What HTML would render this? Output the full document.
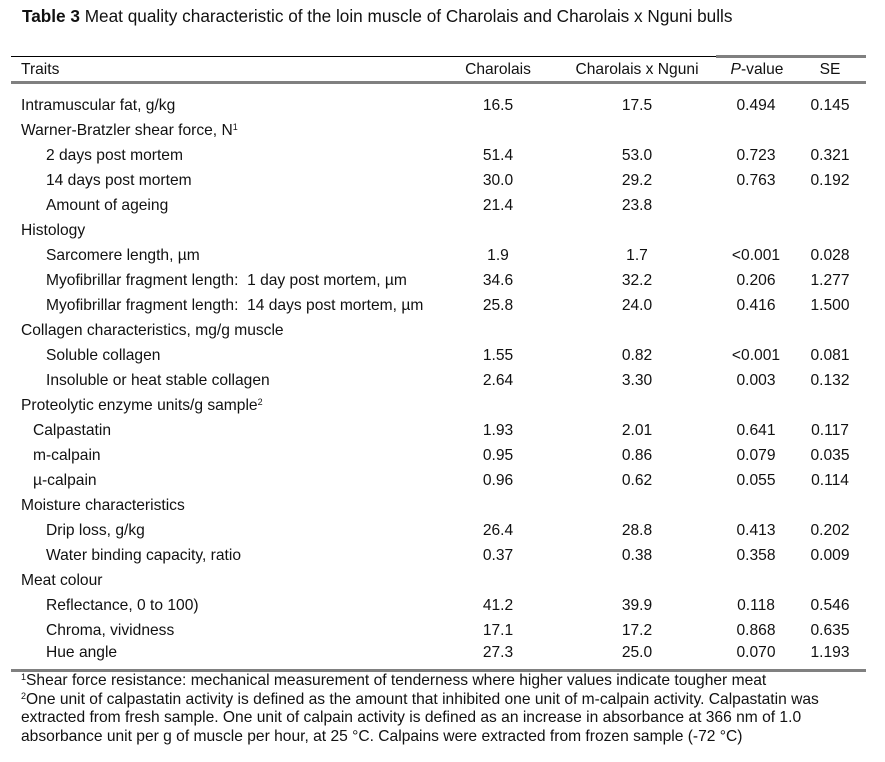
<!DOCTYPE html>
<html><head><meta charset="utf-8"><style>
body{margin:0;width:885px;height:762px;background:#fff;font-family:"Liberation Sans",Arial,sans-serif;color:#111;position:relative;overflow:hidden}
.t{position:absolute;font-size:15.6px;line-height:18px;white-space:nowrap}
.c{transform:translateX(-50%)}
sup{font-size:9px;vertical-align:top;line-height:10px}
.rule{position:absolute}
</style></head><body>
<div class="t" style="left:22px;top:7px;font-size:17.2px"><b>Table 3</b> Meat quality characteristic of the loin muscle of Charolais and Charolais x Nguni bulls</div>
<div class="rule" style="left:11px;top:56px;width:705px;height:1px;background:#000"></div>
<div class="rule" style="left:716px;top:55px;width:150px;height:3px;background:#808080"></div>
<div class="t" style="left:21px;top:61px">Traits</div>
<div class="t c" style="left:498px;top:61px">Charolais</div>
<div class="t c" style="left:637px;top:61px">Charolais x Nguni</div>
<div class="t c" style="left:757px;top:61px"><i>P</i>-value</div>
<div class="t c" style="left:830px;top:61px">SE</div>
<div class="rule" style="left:11px;top:81px;width:855px;height:3px;background:#808080"></div>
<div id="rows"></div>
<div class="rule" style="left:11px;top:669px;width:855px;height:3px;background:#808080"></div>
<div class="t" style="left:21px;top:672px;font-size:15.6px;line-height:18.5px"><sup>1</sup>Shear force resistance: mechanical measurement of tenderness where higher values indicate tougher meat<br><sup>2</sup>One unit of calpastatin activity is defined as the amount that inhibited one unit of m-calpain activity. Calpastatin was<br>extracted from fresh sample. One unit of calpain activity is defined as an increase in absorbance at 366 nm of 1.0<br>absorbance unit per g of muscle per hour, at 25 °C. Calpains were extracted from frozen sample (-72 °C)</div>
<script>
const labels=["Intramuscular fat, g/kg","Warner-Bratzler shear force, N<sup>1</sup>","2 days post mortem","14 days post mortem","Amount of ageing","Histology","Sarcomere length, µm","Myofibrillar fragment length:&nbsp; 1 day post mortem, µm","Myofibrillar fragment length:&nbsp; 14 days post mortem, µm","Collagen characteristics, mg/g muscle","Soluble collagen","Insoluble or heat stable collagen","Proteolytic enzyme units/g sample<sup>2</sup>","Calpastatin","m-calpain","µ-calpain","Moisture characteristics","Drip loss, g/kg","Water binding capacity, ratio","Meat colour","Reflectance, 0 to 100)","Chroma, vividness","Hue angle"];
const indent=[21,21,46,46,46,21,46,46,46,21,46,46,21,33,33,33,21,46,46,21,46,46,46];
const charolais=["16.5","","51.4","30.0","21.4","","1.9","34.6","25.8","","1.55","2.64","","1.93","0.95","0.96","","26.4","0.37","","41.2","17.1","27.3"];
const cross=["17.5","","53.0","29.2","23.8","","1.7","32.2","24.0","","0.82","3.30","","2.01","0.86","0.62","","28.8","0.38","","39.9","17.2","25.0"];
const pval=["0.494","","0.723","0.763","","","<0.001","0.206","0.416","","<0.001","0.003","","0.641","0.079","0.055","","0.413","0.358","","0.118","0.868","0.070"];
const se=["0.145","","0.321","0.192","","","0.028","1.277","1.500","","0.081","0.132","","0.117","0.035","0.114","","0.202","0.009","","0.546","0.635","1.193"];
const root=document.getElementById('rows');
function cell(html,left,top,center,name){const d=document.createElement('div');d.className='t'+(center?' c':'');d.style.left=left+'px';d.style.top=top+'px';d.innerHTML=html;


root.appendChild(d);}
labels.forEach((l,i)=>{const y=97+i*25-(i==22?3:0);
cell(l,indent[i],y,false,'row-label');
if(charolais[i])cell(charolais[i],498,y,true,'charolais-value');
if(cross[i])cell(cross[i],637,y,true,'charolais-nguni-value');
if(pval[i])cell(pval[i].replace('<','&lt;'),756,y,true,'p-value');
if(se[i])cell(se[i],830,y,true,'se-value');});
</script>
</body></html>
